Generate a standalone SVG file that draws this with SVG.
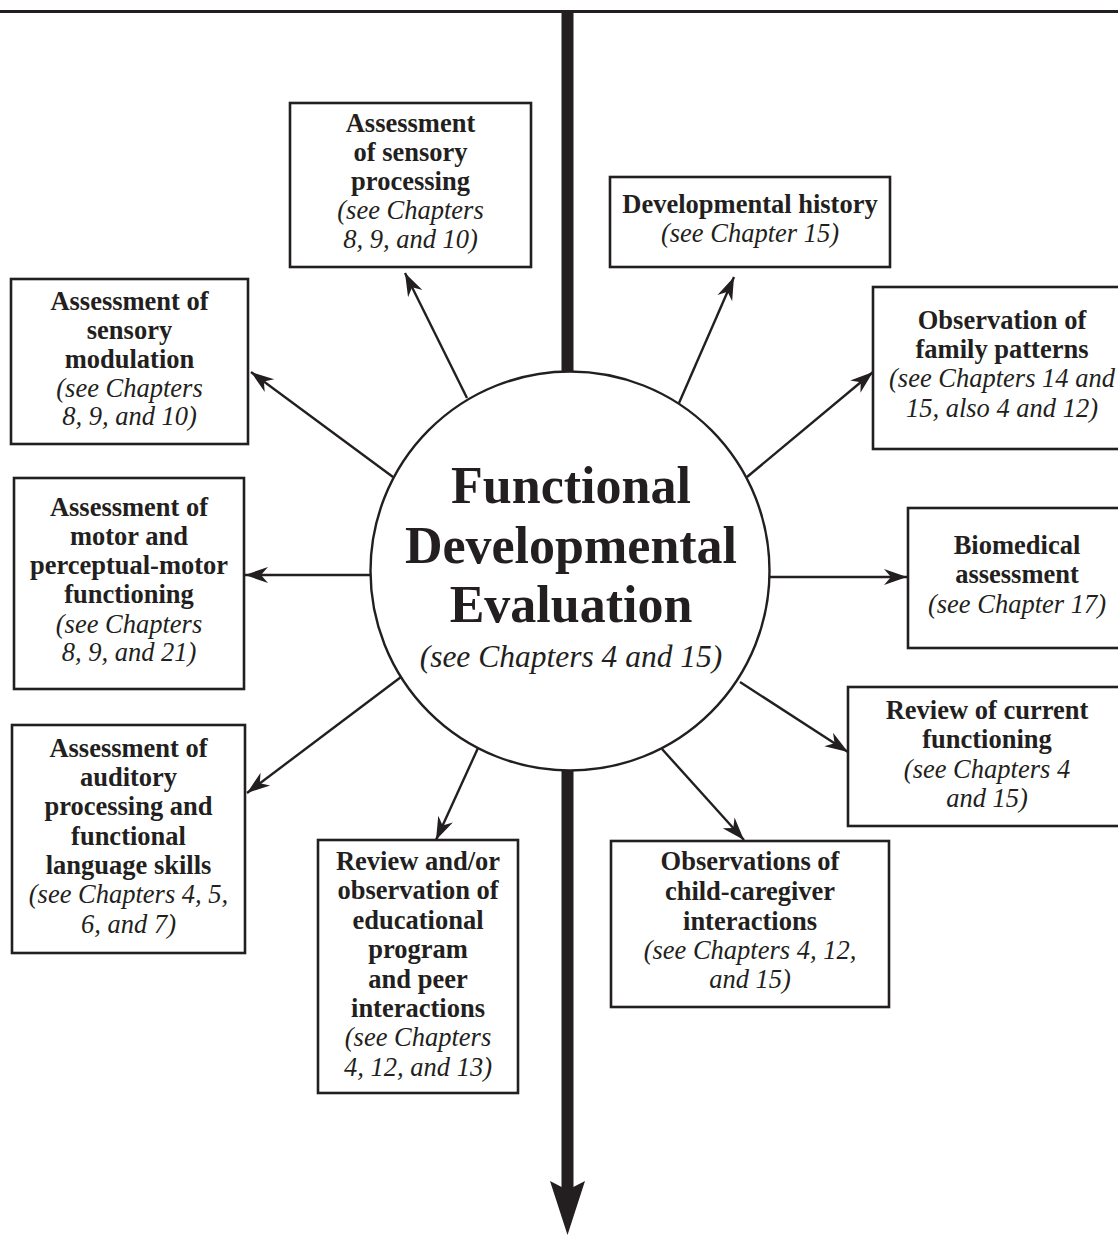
<svg xmlns="http://www.w3.org/2000/svg" width="1118" height="1235" viewBox="0 0 1118 1235">
<defs>
<style>
.box{fill:#fff;stroke:#231f20;stroke-width:2.6}
.b{font-family:"Liberation Serif","Times New Roman",serif;font-weight:bold;font-size:26.5px;fill:#231f20;text-anchor:middle}
.i{font-family:"Liberation Serif","Times New Roman",serif;font-style:italic;font-size:26.5px;fill:#231f20;text-anchor:middle}
.tb{font-family:"Liberation Serif","Times New Roman",serif;font-weight:bold;font-size:52px;fill:#231f20;text-anchor:middle}
.ti{font-family:"Liberation Serif","Times New Roman",serif;font-style:italic;font-size:31.5px;fill:#231f20;text-anchor:middle}
.arr{stroke:#231f20;stroke-width:2.4;fill:none;marker-end:url(#ah)}
</style>
<marker id="ah" viewBox="-24 -9 25 18" markerWidth="25" markerHeight="18" refX="0" refY="0" orient="auto" markerUnits="userSpaceOnUse">
<path d="M0,0 L-23,-8 L-16,0 L-23,8 Z" fill="#231f20"/>
</marker>
</defs>
<rect width="1118" height="1235" fill="#fff"/>
<line x1="0" y1="11.5" x2="1118" y2="11.5" stroke="#231f20" stroke-width="3"/>

<g id="connectors">
<line x1="567.5" y1="11" x2="567.5" y2="373" stroke="#231f20" stroke-width="12"/>
<line x1="567.5" y1="769" x2="567.5" y2="1190" stroke="#231f20" stroke-width="12"/>
<path d="M550,1181 L567.5,1190 L585,1181 L567.5,1235 Z" fill="#231f20"/>
<line class="arr" x1="467" y1="398" x2="405" y2="273"/>
<line class="arr" x1="679" y1="403" x2="734" y2="277"/>
<line class="arr" x1="747" y1="477" x2="873" y2="372"/>
<line class="arr" x1="393" y1="477" x2="251" y2="372"/>
<line class="arr" x1="371" y1="575" x2="245" y2="575"/>
<line class="arr" x1="769" y1="577" x2="907" y2="577"/>
<line class="arr" x1="740" y1="682" x2="848" y2="752"/>
<line class="arr" x1="401" y1="677" x2="247" y2="793"/>
<line class="arr" x1="478" y1="748" x2="436" y2="840"/>
<line class="arr" x1="662" y1="749" x2="744" y2="840"/>
</g>

<g id="center">
<circle cx="570" cy="571" r="199.5" fill="#fff" stroke="#231f20" stroke-width="2.4"/>
<text class="tb" x="571" y="503">Functional</text>
<text class="tb" x="571" y="563">Developmental</text>
<text class="tb" x="571" y="622">Evaluation</text>
<text class="ti" x="571" y="667">(see Chapters 4 and 15)</text>
</g>

<g id="sensory-processing">
<rect class="box" x="290" y="103" width="241" height="164"/>
<text class="b" x="410.5" y="132">Assessment</text>
<text class="b" x="410.5" y="161">of sensory</text>
<text class="b" x="410.5" y="190">processing</text>
<text class="i" x="410.5" y="219">(see Chapters</text>
<text class="i" x="410.5" y="248">8, 9, and 10)</text>
</g>

<g id="developmental-history">
<rect class="box" x="610" y="177" width="280" height="90"/>
<text class="b" x="750" y="213">Developmental history</text>
<text class="i" x="750" y="242">(see Chapter 15)</text>
</g>

<g id="family-patterns">
<rect class="box" x="873" y="287" width="260" height="162"/>
<text class="b" x="1002" y="329">Observation of</text>
<text class="b" x="1002" y="358">family patterns</text>
<text class="i" x="1002" y="387">(see Chapters 14 and</text>
<text class="i" x="1002" y="417">15, also 4 and 12)</text>
</g>

<g id="sensory-modulation">
<rect class="box" x="11" y="279" width="237" height="165"/>
<text class="b" x="129.5" y="310">Assessment of</text>
<text class="b" x="129.5" y="339">sensory</text>
<text class="b" x="129.5" y="368">modulation</text>
<text class="i" x="129.5" y="397">(see Chapters</text>
<text class="i" x="129.5" y="425">8, 9, and 10)</text>
</g>

<g id="motor">
<rect class="box" x="14" y="478" width="230" height="211"/>
<text class="b" x="129" y="516">Assessment of</text>
<text class="b" x="129" y="545">motor and</text>
<text class="b" x="129" y="574">perceptual-motor</text>
<text class="b" x="129" y="603">functioning</text>
<text class="i" x="129" y="633">(see Chapters</text>
<text class="i" x="129" y="661">8, 9, and 21)</text>
</g>

<g id="biomedical">
<rect class="box" x="908" y="508" width="220" height="140"/>
<text class="b" x="1017" y="554">Biomedical</text>
<text class="b" x="1017" y="583">assessment</text>
<text class="i" x="1017" y="613">(see Chapter 17)</text>
</g>

<g id="current-functioning">
<rect class="box" x="848" y="687" width="280" height="139"/>
<text class="b" x="987" y="719">Review of current</text>
<text class="b" x="987" y="748">functioning</text>
<text class="i" x="987" y="778">(see Chapters 4</text>
<text class="i" x="987" y="807">and 15)</text>
</g>

<g id="auditory">
<rect class="box" x="12" y="725" width="233" height="228"/>
<text class="b" x="128.5" y="757">Assessment of</text>
<text class="b" x="128.5" y="786">auditory</text>
<text class="b" x="128.5" y="815">processing and</text>
<text class="b" x="128.5" y="845">functional</text>
<text class="b" x="128.5" y="874">language skills</text>
<text class="i" x="128.5" y="903">(see Chapters 4, 5,</text>
<text class="i" x="128.5" y="933">6, and 7)</text>
</g>

<g id="educational">
<rect class="box" x="318" y="840" width="200" height="253"/>
<text class="b" x="418" y="870">Review and/or</text>
<text class="b" x="418" y="899">observation of</text>
<text class="b" x="418" y="929">educational</text>
<text class="b" x="418" y="958">program</text>
<text class="b" x="418" y="988">and peer</text>
<text class="b" x="418" y="1017">interactions</text>
<text class="i" x="418" y="1046">(see Chapters</text>
<text class="i" x="418" y="1076">4, 12, and 13)</text>
</g>

<g id="child-caregiver">
<rect class="box" x="611" y="841" width="278" height="166"/>
<text class="b" x="750" y="870">Observations of</text>
<text class="b" x="750" y="900">child-caregiver</text>
<text class="b" x="750" y="930">interactions</text>
<text class="i" x="750" y="959">(see Chapters 4, 12,</text>
<text class="i" x="750" y="988">and 15)</text>
</g>
</svg>
